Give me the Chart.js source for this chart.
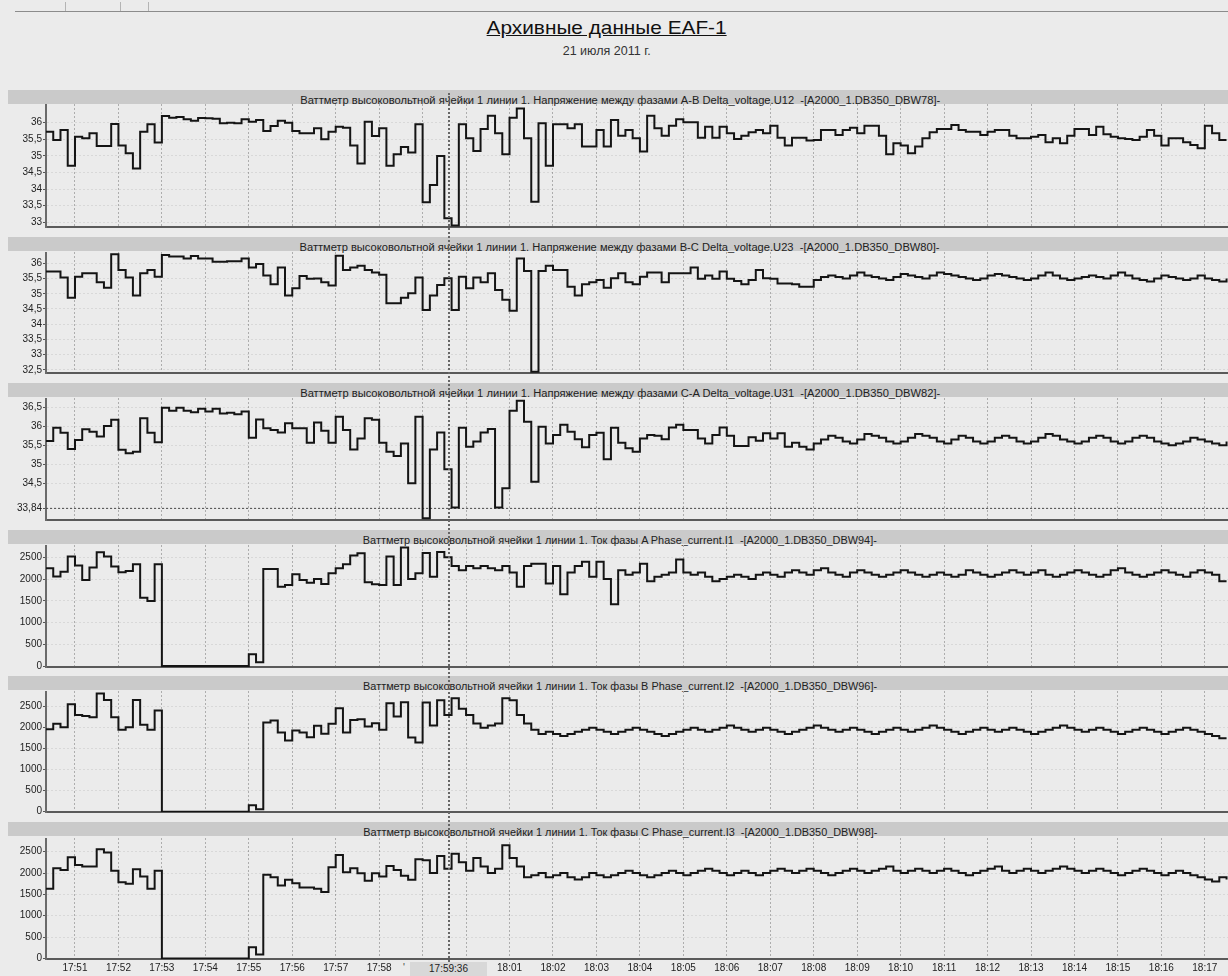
<!DOCTYPE html>
<html lang="ru">
<head>
<meta charset="utf-8">
<title>Архивные данные EAF-1</title>
<script src="https://cdn.jsdelivr.net/npm/chart.js@4.4.1/dist/chart.umd.min.js"></script>
<style>
  html, body { margin: 0; padding: 0; }
  body { width: 1228px; height: 976px; overflow: hidden; position: relative; background: #ebebeb;
         font-family: "Liberation Sans", Arial, sans-serif; }
  .topline { position: absolute; left: 15px; top: 11px; width: 1213px; border-top: 1px solid #8c8c8c; }
  .tab { position: absolute; top: 2px; height: 9px; border-left: 1px solid #b4b4b4; }
  #title { position: absolute; left: 0; width: 1214px; top: 17px; text-align: center; color: #111; }
  #title span { display: inline-block; font-size: 19px; text-decoration: underline; }
  #date { position: absolute; left: 0; width: 1214px; top: 41px; text-align: center; color: #333; }
  #date span { display: inline-block; font-size: 13px; }
  .hdr { position: absolute; left: 8px; width: 1224px; height: 14px; background: #cacaca;
         text-align: center; white-space: pre; }
  .hdr span { display: inline-block; font-size: 10px; line-height: 13px; color: #222; white-space: pre; }
  canvas { position: absolute; left: 0; }
  #cursor { position: absolute; top: 93px; height: 869px; border-left: 2px dotted #666; }
  #curlabel { position: absolute; top: 962px; width: 77px; height: 14px; background: #d8d8d8;
              font-size: 10px; line-height: 14px; text-align: center; color: #222; }
  #stub { position: absolute; left: 403px; top: 962px; font-size: 10px; color: #444; }
</style>
</head>
<body>
<div class="topline"></div>
<div class="tab" style="left:65px"></div>
<div class="tab" style="left:120px"></div>
<div class="tab" style="left:148px"></div>
<div id="title"><span>Архивные данные EAF-1</span></div>
<div id="date"><span>21 июля 2011 г.</span></div>
<div id="stub">'</div>
<script>
// ---- данные ----
const START_TIME = '17:50:20';
const END_TIME = '18:17:32';
const STEP_SEC = 10;
const TIME_LABELS = ['17:51','17:52','17:53','17:54','17:55','17:56','17:57','17:58','17:59','18:00',
  '18:01','18:02','18:03','18:04','18:05','18:06','18:07','18:08','18:09','18:10',
  '18:11','18:12','18:13','18:14','18:15','18:16','18:17'];
const HIDDEN_LABELS = ['17:59', '18:00'];
const CURSOR_TIME = '17:59:36';

const U12_TICKS = [33, 33.5, 34, 34.5, 35, 35.5, 36];
const U23_TICKS = [32.5, 33, 33.5, 34, 34.5, 35, 35.5, 36];
const U31_TICKS = [33.84, 34.5, 35, 35.5, 36, 36.5];
const U31_LIMIT = 33.84;
const I_TICKS = [0, 500, 1000, 1500, 2000, 2500];

const U12 = [
  35.73, 35.48, 35.78, 34.70, 35.58, 35.53, 35.68, 35.30, 35.30, 35.96,
  35.31, 35.08, 34.62, 35.73, 35.95, 35.40, 36.20, 36.15, 36.17, 36.10,
  36.06, 36.14, 36.13, 36.12, 35.98, 36.00, 35.98, 36.10, 36.03, 36.08,
  35.75, 35.90, 36.06, 36.00, 35.75, 35.68, 35.68, 35.83, 35.50, 35.73,
  35.88, 35.85, 35.31, 34.77, 36.03, 35.60, 35.83, 34.70, 35.05, 35.27,
  35.10, 35.95, 33.60, 34.12, 35.00, 33.12, 32.90, 35.95, 35.53, 35.15,
  35.81, 36.21, 35.68, 35.05, 36.15, 36.43, 35.53, 33.62, 35.98, 34.70,
  35.95, 35.95, 35.83, 35.95, 35.28, 35.28, 35.78, 35.28, 36.08, 35.61,
  35.78, 35.53, 35.13, 36.21, 35.83, 35.61, 35.91, 36.10, 36.01, 36.01,
  35.55, 35.88, 35.55, 35.88, 35.68, 35.51, 35.61, 35.71, 35.78, 35.68,
  35.91, 35.55, 35.31, 35.55, 35.55, 35.46, 35.48, 35.78, 35.78, 35.63,
  35.78, 35.85, 35.68, 35.91, 35.91, 35.61, 35.05, 35.38, 35.31, 35.08,
  35.28, 35.53, 35.71, 35.81, 35.81, 35.93, 35.78, 35.73, 35.73, 35.63,
  35.73, 35.78, 35.78, 35.61, 35.53, 35.53, 35.58, 35.63, 35.41, 35.53,
  35.38, 35.61, 35.81, 35.81, 35.63, 35.88, 35.65, 35.58, 35.53, 35.51,
  35.48, 35.58, 35.78, 35.61, 35.31, 35.53, 35.53, 35.41, 35.33, 35.23,
  35.91, 35.68, 35.48, 35.48
];
const U23 = [
  35.73, 35.73, 35.53, 34.87, 35.56, 35.67, 35.67, 35.38, 35.20, 36.30,
  35.78, 35.53, 34.94, 35.67, 35.78, 35.56, 36.27, 36.22, 36.22, 36.16,
  36.24, 36.16, 36.16, 36.05, 36.05, 36.07, 36.07, 36.16, 35.86, 35.98,
  35.60, 35.31, 35.86, 34.94, 35.18, 35.58, 35.49, 35.50, 35.38, 35.27,
  36.25, 35.78, 35.86, 35.92, 35.78, 35.70, 35.62, 34.69, 34.69, 34.87,
  35.02, 35.53, 34.47, 34.94, 35.29, 35.51, 34.47, 35.56, 35.18, 35.53,
  35.38, 35.67, 35.12, 34.80, 34.44, 36.16, 35.75, 32.44, 35.75, 35.92,
  35.78, 35.78, 35.23, 34.94, 35.31, 35.38, 35.45, 35.20, 35.51, 35.67,
  35.38, 35.31, 35.56, 35.70, 35.70, 35.38, 35.67, 35.67, 35.67, 35.86,
  35.49, 35.60, 35.49, 35.73, 35.49, 35.42, 35.31, 35.45, 35.78, 35.51,
  35.49, 35.34, 35.34, 35.31, 35.23, 35.23, 35.45, 35.55, 35.60, 35.55,
  35.50, 35.60, 35.70, 35.60, 35.55, 35.50, 35.45, 35.55, 35.65, 35.60,
  35.55, 35.50, 35.60, 35.70, 35.65, 35.60, 35.55, 35.50, 35.45, 35.50,
  35.60, 35.65, 35.60, 35.55, 35.50, 35.45, 35.50, 35.60, 35.70, 35.60,
  35.50, 35.45, 35.50, 35.55, 35.60, 35.55, 35.50, 35.60, 35.70, 35.60,
  35.50, 35.45, 35.40, 35.50, 35.60, 35.55, 35.50, 35.45, 35.50, 35.60,
  35.50, 35.45, 35.40, 35.50
];
const U31 = [
  35.61, 35.96, 35.83, 35.40, 35.64, 35.92, 35.86, 35.73, 36.01, 36.17,
  35.38, 35.29, 35.33, 36.21, 35.83, 35.58, 36.49, 36.41, 36.49, 36.41,
  36.37, 36.46, 36.39, 36.46, 36.34, 36.36, 36.32, 36.39, 35.70, 36.18,
  35.95, 35.90, 35.84, 36.08, 35.95, 35.95, 35.57, 36.10, 35.88, 35.57,
  36.25, 35.90, 35.39, 35.68, 36.21, 36.17, 35.57, 35.33, 35.22, 35.55,
  34.50, 36.25, 33.58, 35.39, 35.84, 34.87, 33.86, 35.96, 35.46, 35.60,
  35.84, 35.93, 33.86, 34.37, 36.41, 36.67, 36.12, 34.54, 35.99, 35.55,
  35.77, 36.04, 35.86, 35.66, 35.45, 35.77, 35.83, 35.13, 35.96, 35.57,
  35.42, 35.33, 35.68, 35.77, 35.75, 35.66, 35.97, 36.04, 35.90, 35.90,
  35.68, 35.55, 35.77, 35.97, 35.75, 35.48, 35.48, 35.71, 35.62, 35.82,
  35.68, 35.82, 35.46, 35.57, 35.46, 35.39, 35.55, 35.65, 35.75, 35.70,
  35.60, 35.55, 35.65, 35.80, 35.75, 35.70, 35.60, 35.55, 35.60, 35.70,
  35.80, 35.75, 35.70, 35.60, 35.55, 35.65, 35.75, 35.70, 35.60, 35.55,
  35.60, 35.70, 35.75, 35.70, 35.60, 35.55, 35.60, 35.70, 35.80, 35.75,
  35.65, 35.60, 35.55, 35.60, 35.70, 35.75, 35.70, 35.60, 35.55, 35.60,
  35.70, 35.75, 35.70, 35.60, 35.55, 35.50, 35.55, 35.60, 35.70, 35.65,
  35.60, 35.55, 35.50, 35.60
];
const I1 = [
  2247, 2056, 2170, 2516, 2309, 1979, 2263, 2615, 2516, 2286,
  2155, 2186, 2339, 1572, 1496, 2339, 0, 0, 0, 0,
  0, 0, 0, 0, 0, 0, 0, 0, 268, 84,
  2232, 2232, 1825, 1864, 2109, 1979, 1917, 2002, 1887, 2132,
  2247, 2339, 2539, 2592, 1925, 1879, 1864, 2516, 1864, 2723,
  2002, 2132, 2600, 2050, 2620, 2500, 2300, 2200, 2300, 2250,
  2300, 2250, 2200, 2300, 2150, 1820, 2300, 2350, 2350, 1900,
  2300, 1650, 2150, 2300, 2400, 2050, 2400, 2000, 1420, 2200,
  2100, 2150, 2350, 1950, 2050, 2100, 2150, 2450, 2150, 2100,
  2150, 2050, 1950, 2000, 2050, 2100, 2050, 2000, 2100, 2150,
  2100, 2050, 2150, 2200, 2150, 2100, 2200, 2250, 2150, 2100,
  2050, 2150, 2200, 2150, 2100, 2050, 2100, 2150, 2200, 2150,
  2100, 2050, 2100, 2150, 2100, 2050, 2100, 2200, 2150, 2100,
  2050, 2100, 2150, 2200, 2150, 2100, 2150, 2200, 2100, 2050,
  2100, 2150, 2200, 2150, 2100, 2050, 2100, 2200, 2250, 2150,
  2100, 2050, 2100, 2150, 2200, 2150, 2100, 2050, 2150, 2200,
  2150, 2100, 1950, 1950
];
const I2 = [
  1964, 2090, 2011, 2555, 2303, 2279, 2247, 2815, 2658, 2247,
  1948, 2011, 2658, 2066, 1948, 2405, 0, 0, 0, 0,
  0, 0, 0, 0, 0, 0, 0, 0, 150, 55,
  2121, 2169, 1885, 1695, 1932, 1885, 1774, 2043, 1853, 2090,
  2460, 1885, 2184, 2200, 2027, 2106, 1948, 2579, 2263, 2602,
  1766, 1648, 2600, 2050, 2650, 2300, 2700, 2450, 2300, 2100,
  2000, 2050, 2100, 2700, 2650, 2300, 2100, 1950, 1850, 1900,
  1850, 1800, 1850, 1900, 1950, 2000, 1950, 1900, 1850, 1900,
  1950, 2000, 1950, 1900, 1850, 1800, 1850, 1900, 1950, 2000,
  1950, 1900, 1950, 2000, 2050, 2000, 1950, 1900, 1950, 2000,
  1950, 1900, 1850, 1900, 1950, 2000, 2050, 2000, 1950, 1900,
  1950, 2000, 1950, 1900, 1850, 1900, 1950, 2000, 1950, 1900,
  1950, 2000, 2050, 2000, 1950, 1900, 1850, 1900, 1950, 2000,
  1950, 1900, 1950, 2000, 1950, 1900, 1850, 1900, 1950, 2000,
  2050, 2000, 1950, 1900, 1950, 2000, 1950, 1900, 1850, 1900,
  1950, 2000, 1950, 1900, 1850, 1900, 1950, 2000, 1950, 1900,
  1850, 1800, 1750, 1750
];
const I3 = [
  1630, 2112, 2073, 2368, 2189, 2150, 2150, 2554, 2477, 2050,
  1786, 1747, 2089, 1918, 1630, 2050, 0, 0, 0, 0,
  0, 0, 0, 0, 0, 0, 0, 0, 264, 93,
  1957, 1902, 1708, 1840, 1762, 1661, 1661, 1630, 1553, 2135,
  2422, 2019, 2112, 1995, 1817, 1995, 1918, 2166, 2073, 1933,
  1840, 2321, 2300, 2000, 2400, 2100, 2450, 2250, 2050, 2350,
  2150, 2000, 2100, 2650, 2350, 2150, 1900, 1950, 2000, 1900,
  1950, 2000, 1900, 1850, 1900, 2000, 1950, 1900, 1950, 2000,
  2050, 2000, 1950, 1900, 1950, 2000, 2050, 2000, 1950, 2000,
  2050, 2100, 2050, 2000, 1950, 2000, 2050, 2000, 1950, 2000,
  2050, 2100, 2050, 2000, 2050, 2100, 2050, 2000, 1950, 2000,
  2050, 2100, 2050, 2000, 2050, 2100, 2150, 2050, 2000, 2050,
  2100, 2050, 2000, 2050, 2100, 2050, 2000, 1950, 2000, 2050,
  2100, 2150, 2050, 2000, 2050, 2100, 2050, 2000, 2050, 2100,
  2150, 2100, 2050, 2000, 2050, 2100, 2050, 2000, 1950, 2000,
  2050, 2100, 2050, 2000, 1950, 2000, 2050, 2000, 1950, 1900,
  1850, 1800, 1900, 1850
];

const HEADERS = [
  'Ваттметр высоковольтной ячейки 1 линии 1. Напряжение между фазами A-B Delta_voltage.U12  -[A2000_1.DB350_DBW78]-',
  'Ваттметр высоковольтной ячейки 1 линии 1. Напряжение между фазами B-C Delta_voltage.U23  -[A2000_1.DB350_DBW80]-',
  'Ваттметр высоковольтной ячейки 1 линии 1. Напряжение между фазами C-A Delta_voltage.U31  -[A2000_1.DB350_DBW82]-',
  'Ваттметр высоковольтной ячейки 1 линии 1. Ток фазы A Phase_current.I1  -[A2000_1.DB350_DBW94]-',
  'Ваттметр высоковольтной ячейки 1 линии 1. Ток фазы B Phase_current.I2  -[A2000_1.DB350_DBW96]-',
  'Ваттметр высоковольтной ячейки 1 линии 1. Ток фазы C Phase_current.I3  -[A2000_1.DB350_DBW98]-'
];

// ---- раскладка панелей (пиксели) ----
const PANELS = [
  { values: U12, ticks: U12_TICKS, min: 32.858, max: 36.563, hdr: 90,  top: 104, bottom: 227, textW: 640 },
  { values: U23, ticks: U23_TICKS, min: 32.40,  max: 36.37,  hdr: 237, top: 252, bottom: 373, textW: 640 },
  { values: U31, ticks: U31_TICKS, min: 33.534, max: 36.745, hdr: 383, top: 398, bottom: 520, textW: 640, limit: U31_LIMIT },
  { values: I1,  ticks: I_TICKS,   min: -23,    max: 2783,   hdr: 530, top: 545, bottom: 667, textW: 514 },
  { values: I2,  ticks: I_TICKS,   min: -8,     max: 2872,   hdr: 676, top: 691, bottom: 812, textW: 514 },
  { values: I3,  ticks: I_TICKS,   min: -12,    max: 2819,   hdr: 822, top: 838, bottom: 959, textW: 514 }
];

const toSec = t => { const p = t.split(':').map(Number); return p[0] * 3600 + p[1] * 60 + (p[2] || 0); };
const T_START = toSec(START_TIME);
const rel = t => toSec(t) - T_START;
const X_MAX = rel(END_TIME);
const X_TICKS = TIME_LABELS.map(rel);
const fmtNum = v => String(v).replace('.', ',');
const FONT = { family: '"Liberation Sans", Arial, sans-serif', size: 10 };

function fitWidth(span, target) {
  const w = span.getBoundingClientRect().width;
  span.style.transform = 'scaleX(' + (target / w) + ')';
}

fitWidth(document.querySelector('#title span'), 240);
fitWidth(document.querySelector('#date span'), 88);

const charts = [];
PANELS.forEach((p, idx) => {
  const last = idx === PANELS.length - 1;

  const hdr = document.createElement('div');
  hdr.className = 'hdr';
  hdr.style.top = p.hdr + 'px';
  const span = document.createElement('span');
  span.textContent = HEADERS[idx];
  hdr.appendChild(span);
  document.body.appendChild(hdr);
  fitWidth(span, p.textW);

  const cv = document.createElement('canvas');
  const h = last ? 976 - p.top : p.bottom - p.top + 2;
  cv.width = 1228; cv.height = h;
  cv.style.top = p.top + 'px';
  cv.style.width = '1228px'; cv.style.height = h + 'px';
  document.body.appendChild(cv);

  const datasets = [{
    data: p.values.map((v, i) => ({ x: i * STEP_SEC, y: v })),
    stepped: 'before',
    borderColor: '#141414',
    borderWidth: 2,
    pointRadius: 0,
    fill: false
  }];
  if (p.limit !== undefined) {
    datasets.push({
      data: [{ x: 0, y: p.limit }, { x: X_MAX, y: p.limit }],
      borderColor: '#4a4a4a',
      borderWidth: 1,
      borderDash: [2, 2],
      pointRadius: 0,
      fill: false
    });
  }

  charts.push(new Chart(cv, {
    type: 'line',
    data: { datasets },
    options: {
      responsive: false,
      animation: false,
      devicePixelRatio: 1,
      layout: { padding: { left: 0, right: 0, top: 0, bottom: last ? 0 : 2 } },
      plugins: { legend: { display: false }, tooltip: { enabled: false } },
      scales: {
        x: {
          type: 'linear',
          min: 0,
          max: X_MAX,
          afterBuildTicks: s => { s.ticks = X_TICKS.map(v => ({ value: v })); },
          afterFit: s => { s.paddingLeft = 0; s.paddingRight = 0; s.height = last ? 17 : 0; },
          ticks: {
            display: last,
            autoSkip: false,
            maxRotation: 0,
            padding: 3,
            font: FONT,
            color: '#222',
            callback: (v, i) => HIDDEN_LABELS.includes(TIME_LABELS[i]) ? '' : TIME_LABELS[i]
          },
          grid: { color: '#adadad', lineWidth: 1, drawTicks: false },
          border: { display: true, color: '#5a5a5a', width: 2, dash: [2, 2] }
        },
        y: {
          min: p.min,
          max: p.max,
          afterBuildTicks: s => { s.ticks = p.ticks.map(v => ({ value: v })); },
          afterFit: s => { s.width = 46; s.paddingTop = 0; s.paddingBottom = 0; },
          ticks: { font: FONT, color: '#222', padding: 1, callback: v => fmtNum(v) },
          grid: { color: 'rgba(0,0,0,0.08)', lineWidth: 1, drawTicks: true, tickLength: 3, tickColor: '#555' },
          border: { display: true, color: '#6a6a6a', width: 2, dash: [2, 2] }
        }
      }
    }
  }));
});

// курсор 17:59:36
const xScale = charts[charts.length - 1].scales.x;
const cx = Math.round(xScale.getPixelForValue(rel(CURSOR_TIME)));
const cur = document.createElement('div');
cur.id = 'cursor';
cur.style.left = (cx - 1) + 'px';
document.body.appendChild(cur);
const lab = document.createElement('div');
lab.id = 'curlabel';
lab.textContent = CURSOR_TIME;
lab.style.left = (cx - 39) + 'px';
document.body.appendChild(lab);
</script>
</body>
</html>
